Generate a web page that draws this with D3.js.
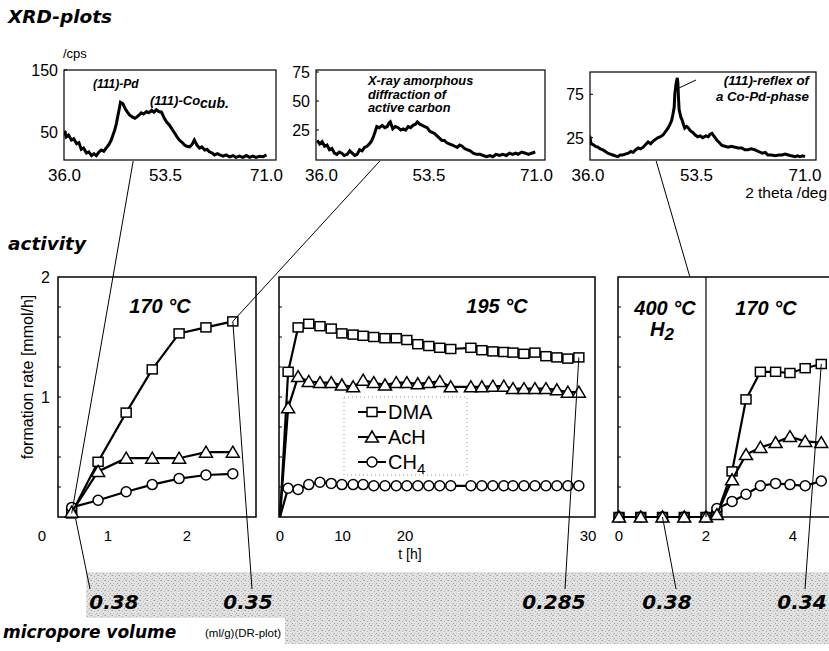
<!DOCTYPE html>
<html>
<head>
<meta charset="utf-8">
<script src="https://cdn.jsdelivr.net/npm/d3@7"></script>
<style>
  body { margin: 0; background: #fff; }
  text { font-family: "Liberation Sans", Arial, sans-serif; fill: #000; }
  .bi { font-family: "DejaVu Sans", sans-serif; font-weight: bold; font-style: italic; }
</style>
</head>
<body>
<div id="chart"></div>
<script>
// XRD scans [2 theta, cps]
const xrdPdCo = [[36.0,52],[36.3,42],[36.7,45],[37.2,37],[37.6,39],[38.1,31],[38.5,33],[38.9,22],[39.3,24],[39.8,16],[40.2,18],[40.7,12],[41.1,15],[41.5,12],[42.0,18],[42.4,21],[42.8,19],[43.3,25],[43.7,30],[44.1,37],[44.4,45],[44.7,53],[45.0,64],[45.2,74],[45.5,88],[45.7,98],[46.1,96],[46.5,88],[46.9,82],[47.3,77],[47.8,74],[48.2,72],[48.5,74],[48.9,77],[49.3,81],[49.7,79],[50.2,83],[50.6,81],[51.1,85],[51.5,82],[51.9,86],[52.3,83],[52.8,82],[53.3,72],[53.7,66],[54.2,61],[54.6,55],[55.1,48],[55.5,42],[55.9,37],[56.4,33],[56.8,29],[57.2,27],[57.7,26],[58.1,30],[58.5,37],[59.0,28],[59.4,24],[59.8,26],[60.3,21],[60.7,22],[61.1,18],[61.6,16],[62.0,13],[62.5,15],[62.9,13],[63.5,11],[64.0,13],[64.6,10],[65.2,12],[65.7,9],[66.3,11],[66.9,9],[67.5,12],[68.1,9],[68.6,11],[69.2,9],[69.8,11],[70.4,10],[71.0,13]];
const xrdCarbon = [[35.3,16],[35.7,13],[36.1,15],[36.5,11],[36.9,12],[37.3,8],[37.7,9],[38.1,5],[38.5,4],[38.9,6],[39.3,5],[39.7,3],[40.2,4],[40.6,7],[41.0,5],[41.4,3],[41.8,4],[42.2,8],[42.6,7],[43.0,10],[43.4,11],[43.8,13],[44.2,16],[44.5,20],[44.7,23],[45.0,28],[45.4,27],[45.9,29],[46.3,27],[46.7,28],[47.0,31],[47.2,32],[47.6,26],[48.0,28],[48.5,27],[48.9,25],[49.3,26],[49.7,25],[50.1,28],[50.5,27],[50.9,29],[51.3,30],[51.6,32],[52.0,30],[52.4,29],[52.8,28],[53.2,27],[53.6,24],[54.0,23],[54.4,22],[54.8,20],[55.2,18],[55.6,16],[56.0,16],[56.4,14],[56.8,13],[57.3,12],[57.7,11],[58.1,10],[58.5,12],[58.9,11],[59.3,9],[59.7,8],[60.2,7],[60.7,5],[61.2,4],[61.8,4],[62.3,3],[62.9,2],[63.4,3],[63.9,2],[64.4,4],[65.0,3],[65.5,4],[66.1,3],[66.6,5],[67.1,4],[67.6,5],[68.0,4],[68.6,6],[69.2,5],[69.7,4],[70.2,5],[70.8,6]];
const xrdCoPd = [[36.0,27],[36.3,26],[36.5,18],[36.8,17],[37.2,15],[37.6,14],[38.0,12],[38.4,11],[38.8,9],[39.2,7],[39.6,6],[40.0,5],[40.4,4],[40.8,3],[41.2,5],[41.6,5],[42.0,6],[42.5,7],[42.9,9],[43.3,8],[43.7,11],[44.1,13],[44.5,12],[44.9,14],[45.3,17],[45.7,20],[46.1,18],[46.5,21],[46.9,23],[47.3,25],[47.7,26],[48.1,28],[48.5,32],[48.9,36],[49.2,40],[49.5,45],[49.7,52],[49.9,60],[50.0,75],[50.2,87],[50.4,94],[50.5,88],[50.6,70],[50.7,57],[51.0,48],[51.2,45],[51.4,40],[51.6,36],[51.9,38],[52.1,37],[52.5,33],[52.9,31],[53.3,28],[53.7,26],[54.1,27],[54.5,25],[55.0,27],[55.4,26],[55.7,29],[56.0,30],[56.4,26],[56.8,22],[57.2,19],[57.6,16],[58.1,15],[58.6,14],[59.1,15],[59.7,14],[60.2,13],[60.8,13],[61.3,11],[61.8,11],[62.3,12],[62.9,11],[63.5,9],[64.1,7],[64.6,8],[65.0,5],[65.6,5],[66.2,4],[66.8,5],[67.3,5],[67.8,6],[68.3,5],[68.8,4],[69.4,3],[69.8,4],[70.2,3],[70.6,4],[71.0,3]];

const xrdXTicks = [36.0, 53.5, 71.0];
const xrdYTicks = [[50, 150], [25, 50, 75], [25, 75]];

// activity, formation rate [mmol/h]
const series = ['DMA', 'AcH', 'CH4'];

const t170 = [0.45, 0.85, 1.23, 1.56, 1.90, 2.24, 2.58];
const dma170 = [0.03, 0.46, 0.87, 1.23, 1.53, 1.58, 1.63];
const ach170 = [0.04, 0.38, 0.49, 0.49, 0.49, 0.54, 0.54];
const ch4170 = [0.08, 0.14, 0.21, 0.27, 0.32, 0.35, 0.36];

const t195 = [1.3, 2.9, 4.6, 6.4, 8.2, 9.9, 11.7, 13.3, 15.0, 16.8, 18.6, 20.1, 20.7, 21.3, 21.9, 22.5, 23.6, 24.2, 24.8, 25.4, 25.9, 26.5, 27.1, 27.7, 28.3, 28.9, 29.5];
const dma195 = [1.21, 1.58, 1.61, 1.59, 1.57, 1.53, 1.52, 1.51, 1.50, 1.49, 1.49, 1.475, 1.44, 1.425, 1.41, 1.40, 1.41, 1.39, 1.38, 1.375, 1.37, 1.36, 1.37, 1.34, 1.33, 1.32, 1.33];
const ach195 = [0.91, 1.17, 1.13, 1.12, 1.12, 1.10, 1.085, 1.14, 1.12, 1.10, 1.12, 1.12, 1.11, 1.12, 1.13, 1.085, 1.085, 1.085, 1.09, 1.09, 1.07, 1.07, 1.07, 1.07, 1.06, 1.04, 1.04];
const ch4195 = [0.24, 0.23, 0.27, 0.29, 0.28, 0.27, 0.27, 0.27, 0.26, 0.26, 0.26, 0.26, 0.26, 0.26, 0.26, 0.26, 0.26, 0.26, 0.26, 0.26, 0.26, 0.26, 0.26, 0.26, 0.26, 0.26, 0.26];

const tH2 = [0, 0.5, 1, 1.5, 2, 2.25, 2.6, 2.92, 3.25, 3.6, 3.93, 4.28, 4.65];
const dmaH2 = [0, 0, 0, 0, 0, 0.02, 0.38, 0.98, 1.21, 1.21, 1.20, 1.24, 1.275];
const achH2 = [0, 0, 0, 0, 0, 0.02, 0.31, 0.52, 0.58, 0.62, 0.67, 0.63, 0.62];
const ch4H2 = [0, 0, 0, 0, 0, 0.07, 0.13, 0.19, 0.26, 0.28, 0.27, 0.26, 0.30];

const yTicks = [0, 1, 2];
const x170Ticks = [0, 1, 2];
const x195Ticks = [0, 10, 20, 30];
const xH2Ticks = [0, 2, 4];

// micropore volume (ml/g), DR-plot
const microLabels = ['0.38', '0.35', '0.285', '0.38', '0.34'];

const width = 829, height = 651;
const svg = d3.select('#chart').append('svg')
    .attr('width', width).attr('height', height);

// halftone for the bottom band
const defs = svg.append('defs');
const pat = defs.append('pattern').attr('id', 'dots')
    .attr('width', 7).attr('height', 5).attr('patternUnits', 'userSpaceOnUse');
pat.append('rect').attr('width', 7).attr('height', 5).attr('fill', '#e2e2e2');
[[0, 0, '#9c9c9c'], [3, 1, '#b0b0b0'], [5, 3, '#a0a0a0'], [1, 3, '#c0c0c0'], [6, 0, '#bababa'], [4, 4, '#c4c4c4']]
  .forEach(([x, y, c]) => pat.append('rect').attr('x', x).attr('y', y).attr('width', 1).attr('height', 1).attr('fill', c));

svg.append('rect').attr('x', 86).attr('y', 572).attr('width', width - 86).attr('height', 46).attr('fill', 'url(#dots)');
svg.append('rect').attr('x', 285).attr('y', 618).attr('width', width - 285).attr('height', 26).attr('fill', 'url(#dots)');

// section headings
svg.append('text').attr('class', 'bi').attr('x', 8).attr('y', 23).style('font-size', '18.5px').text('XRD-plots');
svg.append('text').attr('class', 'bi').attr('x', 8).attr('y', 250).style('font-size', '18.5px').text('activity');

// ---------- XRD plots ----------
const xrdPanels = [
  { data: xrdPdCo, box: [64, 70, 276, 160], xr: [64.5, 266.5], y: d3.scaleLinear().domain([0, 150]).range([163, 70]), yt: xrdYTicks[0], lab: 58 },
  { data: xrdCarbon, box: [316, 70, 545, 160], xr: [321.5, 536.5], y: d3.scaleLinear().domain([0, 75]).range([159, 72]), yt: xrdYTicks[1], lab: 310 },
  { data: xrdCoPd, box: [590, 72, 816, 160], xr: [588, 805], y: d3.scaleLinear().domain([0, 75]).range([159.3, 94.3]), yt: xrdYTicks[2], lab: 584 }
];

xrdPanels.forEach((p, i) => {
  p.x = d3.scaleLinear().domain([36, 71]).range(p.xr);
  const [x0, y0, x1, y1] = p.box;
  const g = svg.append('g');
  g.append('clipPath').attr('id', 'xclip' + i).append('rect')
      .attr('x', x0).attr('y', y0).attr('width', x1 - x0).attr('height', y1 - y0);
  g.append('rect').attr('x', x0).attr('y', y0).attr('width', x1 - x0).attr('height', y1 - y0)
      .attr('fill', 'none').attr('stroke', '#000').attr('stroke-width', 1.2);
  g.append('path').datum(p.data)
      .attr('clip-path', `url(#xclip${i})`)
      .attr('d', d3.line().x(d => p.x(d[0])).y(d => p.y(d[1])))
      .attr('fill', 'none').attr('stroke', '#000').attr('stroke-width', 3).attr('stroke-linejoin', 'miter');
  g.selectAll('.xt').data(xrdXTicks).enter().append('text')
      .attr('x', d => p.x(d)).attr('y', 181).attr('text-anchor', 'middle')
      .style('font-size', '17px').text(d => d.toFixed(1));
  g.selectAll('.yt').data(p.yt).enter().append('text')
      .attr('x', p.lab).attr('y', d => p.y(d) + 6).attr('text-anchor', 'end')
      .style('font-size', '16px').text(d => d);
  g.selectAll('.ytk').data(p.yt).enter().append('line')
      .attr('x1', x0).attr('x2', x0 + 3).attr('y1', d => p.y(d)).attr('y2', d => p.y(d))
      .attr('stroke', '#000');
});

svg.append('text').attr('x', 63).attr('y', 58).style('font-size', '13px').text('/cps');
svg.append('text').attr('x', 827).attr('y', 198).attr('text-anchor', 'end').style('font-size', '15.5px').text('2 theta /deg');

// XRD annotations
const ann = svg.append('g').attr('class', 'bi');
ann.append('text').attr('x', 93).attr('y', 88).style('font-size', '12px').text('(111)-Pd');
const co = ann.append('text').attr('x', 150).attr('y', 105).style('font-size', '13px').text('(111)-Co');
co.append('tspan').attr('dy', 3).style('font-size', '14px').text('cub.');
[['X-ray amorphous', 85], ['diffraction of', 98.5], ['active carbon', 112]].forEach(([s, yy]) =>
  ann.append('text').attr('x', 368).attr('y', yy).style('font-size', '12.8px').text(s));
ann.append('text').attr('x', 809).attr('y', 85).attr('text-anchor', 'end').style('font-size', '13.3px').text('(111)-reflex of');
ann.append('text').attr('x', 809).attr('y', 101).attr('text-anchor', 'end').style('font-size', '13.3px').text('a Co-Pd-phase');
svg.append('line')
    .attr('x1', xrdPanels[2].x(50.6)).attr('y1', xrdPanels[2].y(82))
    .attr('x2', 696).attr('y2', 80).attr('stroke', '#000').attr('stroke-width', 1);

// ---------- activity panels ----------
const yAct = d3.scaleLinear().domain([0, 2]).range([517, 277]);
const x170 = d3.scaleLinear().domain([0, 1, 2]).range([42, 108, 187]);
const x195 = d3.scaleLinear().domain([0, 20, 30]).range([280, 405, 588]);
const xH2 = d3.scaleLinear().domain([0, 4]).range([619, 793]);

const panels = [
  { x: x170, box: [58, 256], t: t170, vals: [dma170, ach170, ch4170], ticks: x170Ticks, origin: false },
  { x: x195, box: [279, 595], t: t195, vals: [dma195, ach195, ch4195], ticks: x195Ticks, origin: true },
  { x: xH2, box: [618, 840], t: tH2, vals: [dmaH2, achH2, ch4H2], ticks: xH2Ticks, origin: false }
];

function marker(sel, kind) {
  if (kind === 0) {
    sel.append('rect').attr('x', -5).attr('y', -4.5).attr('width', 10).attr('height', 9);
  } else if (kind === 1) {
    sel.append('path').attr('d', 'M0,-6L6.5,5H-6.5Z');
  } else {
    sel.append('circle').attr('r', 5);
  }
}

panels.forEach((p, i) => {
  const g = svg.append('g');
  const [bx0, bx1] = p.box;
  g.append('rect').attr('x', bx0).attr('y', yAct(2)).attr('width', bx1 - bx0).attr('height', yAct(0) - yAct(2))
      .attr('fill', 'none').attr('stroke', '#000').attr('stroke-width', 1.5);
  // inner y ticks
  g.selectAll('.tk').data(d3.range(0.25, 2, 0.25)).enter().append('line')
      .attr('x1', bx0).attr('x2', bx0 + 3).attr('y1', d => yAct(d)).attr('y2', d => yAct(d))
      .attr('stroke', '#000');
  g.selectAll('.xl').data(p.ticks).enter().append('text')
      .attr('x', d => p.x(d)).attr('y', 541).attr('text-anchor', 'middle')
      .style('font-size', '15px').text(d => d);

  [0, 2, 1].forEach(s => {
    const pts = p.t.map((t, k) => [t, p.vals[s][k]]);
    const linePts = p.origin ? [[0, 0]].concat(pts) : pts;
    g.append('path').datum(linePts)
        .attr('d', d3.line().x(d => p.x(d[0])).y(d => yAct(d[1])))
        .attr('fill', 'none').attr('stroke', '#000').attr('stroke-width', 2.2);
    const m = g.selectAll('.m' + s).data(pts).enter().append('g')
        .attr('transform', d => `translate(${p.x(d[0])},${yAct(d[1])})`)
        .attr('fill', '#fff').attr('stroke', '#000').attr('stroke-width', 1.5);
    marker(m, s);
  });
});

// y axis labels (first panel)
svg.selectAll('.yl').data(yTicks.filter(d => d > 0)).enter().append('text')
    .attr('x', 50).attr('y', d => yAct(d) + 6).attr('text-anchor', 'end')
    .style('font-size', '16px').text(d => d);
svg.append('text').attr('transform', `translate(33,${(yAct(0) + yAct(2)) / 2 - 20}) rotate(-90)`)
    .attr('text-anchor', 'middle').style('font-size', '16px').text('formation rate [mmol/h]');
svg.append('text').attr('x', x195(20) + 5).attr('y', 559).attr('text-anchor', 'middle')
    .style('font-size', '14px').text('t [h]');

// divider inside the last panel
svg.append('line').attr('x1', xH2(2)).attr('x2', xH2(2)).attr('y1', yAct(2)).attr('y2', yAct(0))
    .attr('stroke', '#000').attr('stroke-width', 1.2);

// panel titles
const tt = svg.append('g').attr('class', 'bi').style('font-size', '20px');
tt.append('text').attr('x', 160).attr('y', 313).attr('text-anchor', 'middle').text('170 °C');
tt.append('text').attr('x', 497).attr('y', 313).attr('text-anchor', 'middle').text('195 °C');
tt.append('text').attr('x', 665).attr('y', 315).attr('text-anchor', 'middle').text('400 °C');
const h2 = tt.append('text').attr('x', 662).attr('y', 336).attr('text-anchor', 'middle').text('H');
h2.append('tspan').attr('dy', 4).style('font-size', '17px').text('2');
tt.append('text').attr('x', 766).attr('y', 315).attr('text-anchor', 'middle').text('170 °C');

// legend
const lg = svg.append('g');
lg.append('rect').attr('x', 344).attr('y', 397).attr('width', 123).attr('height', 78)
    .attr('fill', '#fff').attr('stroke', '#999').attr('stroke-width', 1).attr('stroke-dasharray', '1,3');
series.forEach((s, i) => {
  const yy = 412 + i * 25;
  lg.append('line').attr('x1', 358).attr('x2', 386).attr('y1', yy).attr('y2', yy)
      .attr('stroke', '#000').attr('stroke-width', 2);
  const m = lg.append('g').attr('transform', `translate(372,${yy})`)
      .attr('fill', '#fff').attr('stroke', '#000').attr('stroke-width', 1.5);
  marker(m, i);
  const tx = lg.append('text').attr('x', 388).attr('y', yy + 7).style('font-size', '20px');
  if (s === 'CH4') {
    tx.text('CH');
    tx.append('tspan').attr('dy', 5).style('font-size', '15px').text('4');
  } else {
    tx.text(s);
  }
});

// connector lines
const conn = svg.append('g').attr('stroke', '#000').attr('stroke-width', 1).attr('fill', 'none');
const segs = [
  [[xrdPanels[0].x(47.9), 161], [x170(t170[0]), yAct(dma170[0])]],
  [[xrdPanels[1].x(45.5), 161], [x170(t170[6]), yAct(dma170[6])]],
  [[xrdPanels[2].x(47.0), 161], [xH2(1.63), yAct(2)]],
  [[x170(t170[0]) + 4, yAct(0) + 2], [90, 589]],
  [[x170(t170[6]), yAct(dma170[6])], [252, 589]],
  [[x195(t195[26]), yAct(dma195[26])], [565, 589]],
  [[xH2(1), yAct(0)], [676, 589]],
  [[xH2(4.65), yAct(dmaH2[12])], [805, 589]]
];
segs.forEach(s => conn.append('line')
    .attr('x1', s[0][0]).attr('y1', s[0][1]).attr('x2', s[1][0]).attr('y2', s[1][1]));

// micropore volume
const microX = [114, 248, 554, 667, 802];
svg.selectAll('.mv').data(microLabels).enter().append('text')
    .attr('class', 'bi').attr('x', (d, i) => microX[i]).attr('y', 609)
    .attr('text-anchor', 'middle').style('font-size', '20px').text(d => d);
svg.append('text').attr('class', 'bi').attr('x', 3).attr('y', 638).style('font-size', '17px').text('micropore volume');
svg.append('text').attr('x', 205).attr('y', 637).style('font-size', '11.5px').text('(ml/g)(DR-plot)');
</script>
</body>
</html>
